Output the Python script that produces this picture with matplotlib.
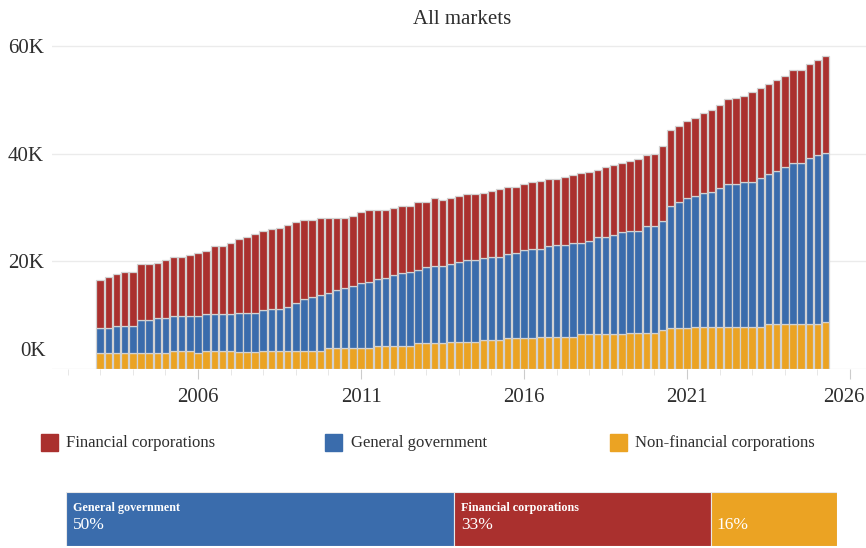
import numpy as np
import pandas as pd
import matplotlib.pyplot as plt
from matplotlib.patches import Rectangle
from matplotlib.transforms import ScaledTranslation

plt.rcParams['font.family'] = ['Liberation Serif', 'DejaVu Serif']

# quarterly amounts outstanding, thousands
quarters = pd.period_range('2003Q1', '2025Q2', freq='Q')

nonfinancial = [2.9, 2.9, 2.9, 2.9, 2.9, 2.9, 2.9, 2.9, 2.9, 3.3,
                3.3, 3.3, 2.9, 3.3, 3.3, 3.3, 3.3, 3.2, 3.2, 3.2,
                3.4, 3.4, 3.4, 3.4, 3.4, 3.4, 3.4, 3.4, 3.85, 3.85,
                3.85, 3.85, 3.85, 3.85, 4.3, 4.3, 4.3, 4.3, 4.3, 4.8,
                4.8, 4.8, 4.8, 5.1, 5.1, 5.1, 5.1, 5.4, 5.4, 5.4,
                5.7, 5.7, 5.7, 5.7, 6.0, 6.0, 6.0, 6.0, 6.0, 6.6,
                6.6, 6.6, 6.6, 6.6, 6.6, 6.75, 6.75, 6.75, 6.75, 7.3,
                7.6, 7.6, 7.6, 7.9, 7.9, 7.9, 7.9, 7.9, 7.9, 7.9,
                7.9, 7.9, 8.3, 8.3, 8.3, 8.3, 8.3, 8.3, 8.3, 8.7]

government = [4.7, 4.7, 5.1, 5.1, 5.1, 6.2, 6.2, 6.5, 6.5, 6.6,
              6.6, 6.6, 6.9, 6.9, 6.9, 6.9, 6.9, 7.2, 7.2, 7.2,
              7.5, 7.8, 7.8, 8.2, 8.9, 9.6, 10.0, 10.3, 10.3, 10.9,
              11.3, 11.6, 12.1, 12.4, 12.4, 12.7, 13.2, 13.5, 13.8, 13.7,
              14.1, 14.4, 14.4, 14.4, 14.8, 15.1, 15.1, 15.2, 15.5, 15.5,
              15.6, 15.9, 16.4, 16.6, 16.3, 16.9, 17.1, 17.1, 17.4, 16.8,
              17.2, 17.9, 17.9, 18.3, 18.8, 19.0, 19.0, 19.8, 19.8, 20.2,
              22.8, 23.5, 24.3, 24.3, 24.8, 25.1, 25.7, 26.5, 26.5, 26.8,
              26.8, 27.6, 27.9, 28.6, 29.3, 30.1, 30.1, 30.9, 31.5, 31.5]

financial = [9.0, 9.6, 9.6, 10.0, 10.0, 10.4, 10.4, 10.4, 10.9, 11.0,
             11.0, 11.3, 11.8, 11.8, 12.6, 12.6, 13.3, 13.8, 14.1, 14.8,
             14.8, 14.8, 15.1, 15.1, 15.1, 14.7, 14.3, 14.3, 13.9, 13.3,
             12.9, 13.1, 13.3, 13.4, 12.9, 12.6, 12.4, 12.5, 12.2, 12.6,
             12.2, 12.6, 12.2, 12.3, 12.3, 12.3, 12.3, 12.2, 12.3, 12.6,
             12.6, 12.3, 12.3, 12.4, 12.7, 12.4, 12.2, 12.7, 12.7, 13.0,
             12.9, 12.6, 13.0, 13.1, 12.9, 12.9, 13.3, 13.2, 13.5, 14.0,
             14.1, 14.1, 14.3, 14.4, 14.9, 15.1, 15.5, 15.8, 16.1, 16.1,
             16.9, 16.8, 16.9, 16.9, 16.9, 17.2, 17.2, 17.5, 17.7, 18.0]

share_labels = ['General government', 'Financial corporations',
                'Non-financial corporations']
shares = [50.3, 33.4, 16.3]

RED = '#aa302e'
BLUE = '#3a6cac'
ORANGE = '#eba323'
TXT = '#2e2e2e'
colors = {'Financial corporations': RED, 'General government': BLUE,
          'Non-financial corporations': ORANGE}

W, H = 866, 548
fig = plt.figure(figsize=(W / 100, H / 100), dpi=100)
ax = fig.add_axes([52 / W, 1 - 369 / H, (866 - 52) / W, (369 - 40) / H])

x = quarters.year + (quarters.quarter - 1) / 4
bottom = np.zeros(len(x))
for vals, color in [(nonfinancial, ORANGE), (government, BLUE), (financial, RED)]:
    vals = np.array(vals)
    ax.bar(x, vals, width=0.23, bottom=bottom, color=color,
           edgecolor='#d2d2d2', linewidth=0.9)
    bottom += vals

ax.set_xlim(2001.52, 2026.49)
ax.set_ylim(0, 61.2)
ax.set_xticks([2006, 2011, 2016, 2021, 2026])
ax.set_xticks(range(2002, 2027), minor=True)
ax.set_yticks([0, 20, 40, 60])
ax.set_yticklabels(['', '20K', '40K', '60K'])
ax.annotate('0K', xy=(0, 0), xycoords=('axes fraction', 'data'),
            xytext=(-6, 17), textcoords='offset pixels', ha='right',
            va='center', fontsize=15, color=TXT)
ax.tick_params(axis='x', which='major', length=7, color='#cccccc',
               pad=7, labelsize=15, labelcolor=TXT)
ax.tick_params(axis='x', which='minor', length=4, color='#e3e3e3')
ax.tick_params(axis='y', length=0, pad=6, labelsize=15, labelcolor=TXT)
ax.yaxis.grid(True, color='#ebebeb', linewidth=1)
ax.set_axisbelow(True)
for s in ax.spines.values():
    s.set_visible(False)

# keep the last year label inside the picture
last = ax.get_xticklabels()[-1]
last.set_transform(last.get_transform() + ScaledTranslation(-6 / 100, 0, fig.dpi_scale_trans))

fig.text(462 / W, 1 - 19 / H, 'All markets', ha='center', va='center',
         fontsize=15, color=TXT)

# legend
for label, bx, tx in [('Financial corporations', 41, 66),
                      ('General government', 325, 351),
                      ('Non-financial corporations', 610, 635)]:
    fig.add_artist(Rectangle((bx / W, 1 - 451 / H), 17 / W, 17 / H,
                             transform=fig.transFigure, color=colors[label]))
    fig.text(tx / W, 1 - 443 / H, label, va='center', fontsize=12, color=TXT)

# share bar
ax2 = fig.add_axes([66 / W, 1 - 546 / H, (837 - 66) / W, 54 / H])
left = 0
for label, share in zip(share_labels, shares):
    ax2.barh(0, share, left=left, height=1, color=colors[label],
             edgecolor='#e8e8e8', linewidth=0.8)
    if share > 20:
        ax2.annotate(label, xy=(left, 0.5), xytext=(7, -16),
                     textcoords='offset pixels', ha='left', va='center',
                     fontsize=8.7, fontweight='bold', color='white')
        ax2.annotate(f'{share:.0f}%', xy=(left, 0.5), xytext=(7, -33),
                     textcoords='offset pixels', ha='left', va='center',
                     fontsize=12.5, color='white')
    else:
        ax2.annotate(f'{share:.0f}%', xy=(left, 0.5), xytext=(5, -33),
                     textcoords='offset pixels', ha='left', va='center',
                     fontsize=12.5, color='white')
    left += share
ax2.set_xlim(0, 100)
ax2.set_ylim(-0.5, 0.5)
ax2.axis('off')

fig.savefig('out.png', dpi=100)
